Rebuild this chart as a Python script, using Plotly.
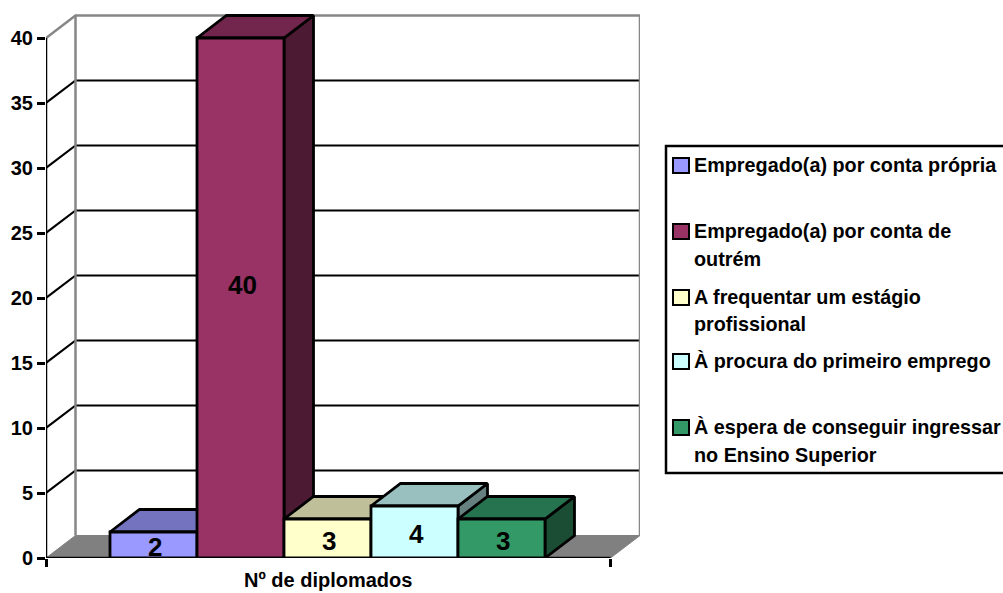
import plotly.graph_objects as go

# Survey outcome per employment situation
categories = [
    "Empregado(a) por conta própria",
    "Empregado(a) por conta de<br>outrém",
    "A frequentar um estágio<br>profissional",
    "À procura do primeiro emprego",
    "À espera de conseguir ingressar<br>no Ensino Superior",
]
values = [2, 40, 3, 4, 3]
axis_title = "Nº de diplomados"
y_ticks = [0, 5, 10, 15, 20, 25, 30, 35, 40]

front_colors = ["#9999FF", "#993366", "#FFFFCC", "#CCFFFF", "#339966"]
top_colors = ["#7373BF", "#73264D", "#BFBF99", "#99BFBF", "#267350"]
side_colors = ["#4D4D80", "#4D1A33", "#808066", "#668080", "#1A4D33"]

FONT = "Liberation Sans"
W, H = 1003, 593
PX_X, PX_Y = 87.0, 13.0          # pixels per bar width / per unit
LEFT_PX, RIGHT_PX, BOTTOM_PX, TOP_PX = 46, 640, 558, 6
FIRST_CENTER_PX = 153.5
DX, DY = 29.5 / PX_X, 22.5 / PX_Y  # oblique depth offset in axis units

x_min = (LEFT_PX - FIRST_CENTER_PX) / PX_X
x_max = (RIGHT_PX - FIRST_CENTER_PX) / PX_X
x_front = x_max - DX
y_max = (BOTTOM_PX - TOP_PX) / PX_Y
y_top = y_ticks[-1]

fig = go.Figure()


def poly(xs, ys, fill=None, line="#000000", width=2.8):
    closed = fill is not None
    fig.add_trace(go.Scatter(
        x=xs, y=ys, mode="lines",
        fill="toself" if closed else None, fillcolor=fill,
        line=dict(color=line, width=width), hoverinfo="skip",
        showlegend=False, cliponaxis=False,
    ))


# floor of the box
poly([x_min, x_min + DX, x_max, x_front, x_min], [0, DY, DY, 0, 0],
     fill="#808080", line="#808080", width=1)

# back wall and gridlines, each one folding from the front axis onto the wall
for v in y_ticks[1:-1]:
    poly([x_min, x_min + DX, x_max], [v, v + DY, v + DY], width=2.2)
poly([x_min, x_min + DX, x_max, x_max], [y_top, y_top + DY, y_top + DY, DY],
     line="#868686", width=2.5)
poly([x_min + DX, x_min + DX], [DY, y_top + DY], line="#868686", width=2.5)

# depth faces of the bars, painted left to right
for i, v in enumerate(values):
    l, r = i - 0.5, i + 0.5
    poly([r, r + DX, r + DX, r, r], [0, DY, v + DY, v, 0], fill=side_colors[i])
    poly([l, l + DX, r + DX, r, l], [v, v + DY, v + DY, v, v], fill=top_colors[i])

# front axes
poly([x_min, x_min], [0, y_top], width=2.5)
poly([x_min, x_front], [0, 0], width=2.5)

# front faces on an overlaid subplot, above every depth face
fig.add_trace(go.Bar(
    x=list(range(len(values))), y=values, width=1.0,
    xaxis="x2", yaxis="y2", marker=dict(color=front_colors, line=dict(color="#000000", width=2.8)),
    hoverinfo="skip", showlegend=False,
))

annotations = []
for i, v in enumerate(values):
    annotations.append(dict(
        x=i + 0.02, y=v / 2, xref="x2", yref="y2", text=f"<b>{v}</b>", showarrow=False,
        yshift=13 if v == max(values) else -2,
        font=dict(family=FONT, size=26, color="#000000"),
    ))
annotations.append(dict(
    x=(x_min + x_front) / 2, y=13 / H, xref="x", yref="paper", text=f"<b>{axis_title}</b>",
    showarrow=False, xanchor="center", yanchor="middle",
    font=dict(family=FONT, size=20, color="#000000"),
))

# legend panel, its right edge running past the page
shapes = [dict(type="rect", xref="paper", yref="paper",
               x0=666 / W, x1=1008 / W, y0=1 - 473 / H, y1=1 - 146 / H,
               line=dict(color="#000000", width=2.5), fillcolor="#FFFFFF")]
swatch_tops = [158, 224, 290, 354, 420]
for cat, color, top in zip(categories, front_colors, swatch_tops):
    shapes.append(dict(type="rect", xref="paper", yref="paper",
                       x0=673 / W, x1=689 / W, y0=1 - (top + 15) / H, y1=1 - top / H,
                       line=dict(color="#000000", width=2), fillcolor=color))
    for n, part in enumerate(cat.split("<br>")):
        annotations.append(dict(
            x=692 / W, y=1 - (top + 7 + n * 27.5) / H, xref="paper", yref="paper",
            text=f"<b>{part}</b>", showarrow=False, xanchor="left", yanchor="middle",
            font=dict(family=FONT, size=19.8, color="#000000"),
        ))

x_dom = [LEFT_PX / W, RIGHT_PX / W]
y_dom = [1 - BOTTOM_PX / H, 1 - TOP_PX / H]
fig.update_layout(
    width=W, height=H, margin=dict(l=0, r=0, t=0, b=0, autoexpand=False),
    paper_bgcolor="#FFFFFF", plot_bgcolor="#FFFFFF", showlegend=False,
    font=dict(family=FONT, color="#000000"),
    xaxis=dict(domain=x_dom, range=[x_min, x_max], showgrid=False, zeroline=False, showline=False,
               tickmode="array", tickvals=[x_min, x_front], ticktext=["", ""],
               ticks="outside", ticklen=8, tickwidth=2.5, tickcolor="#000000"),
    yaxis=dict(domain=y_dom, range=[0, y_max], showgrid=False, zeroline=False, showline=False,
               tickmode="array", tickvals=y_ticks, ticktext=[f"<b>{t}</b>" for t in y_ticks],
               ticks="outside", ticklen=8, tickwidth=2.5, tickcolor="#000000",
               tickfont=dict(family=FONT, size=20, color="#000000")),
    xaxis2=dict(domain=x_dom, range=[x_min, x_max], overlaying="x", anchor="y2", visible=False),
    yaxis2=dict(domain=y_dom, range=[0, y_max], overlaying="y", anchor="x2", visible=False),
    annotations=annotations, shapes=shapes,
)

fig.write_html("out.html")
